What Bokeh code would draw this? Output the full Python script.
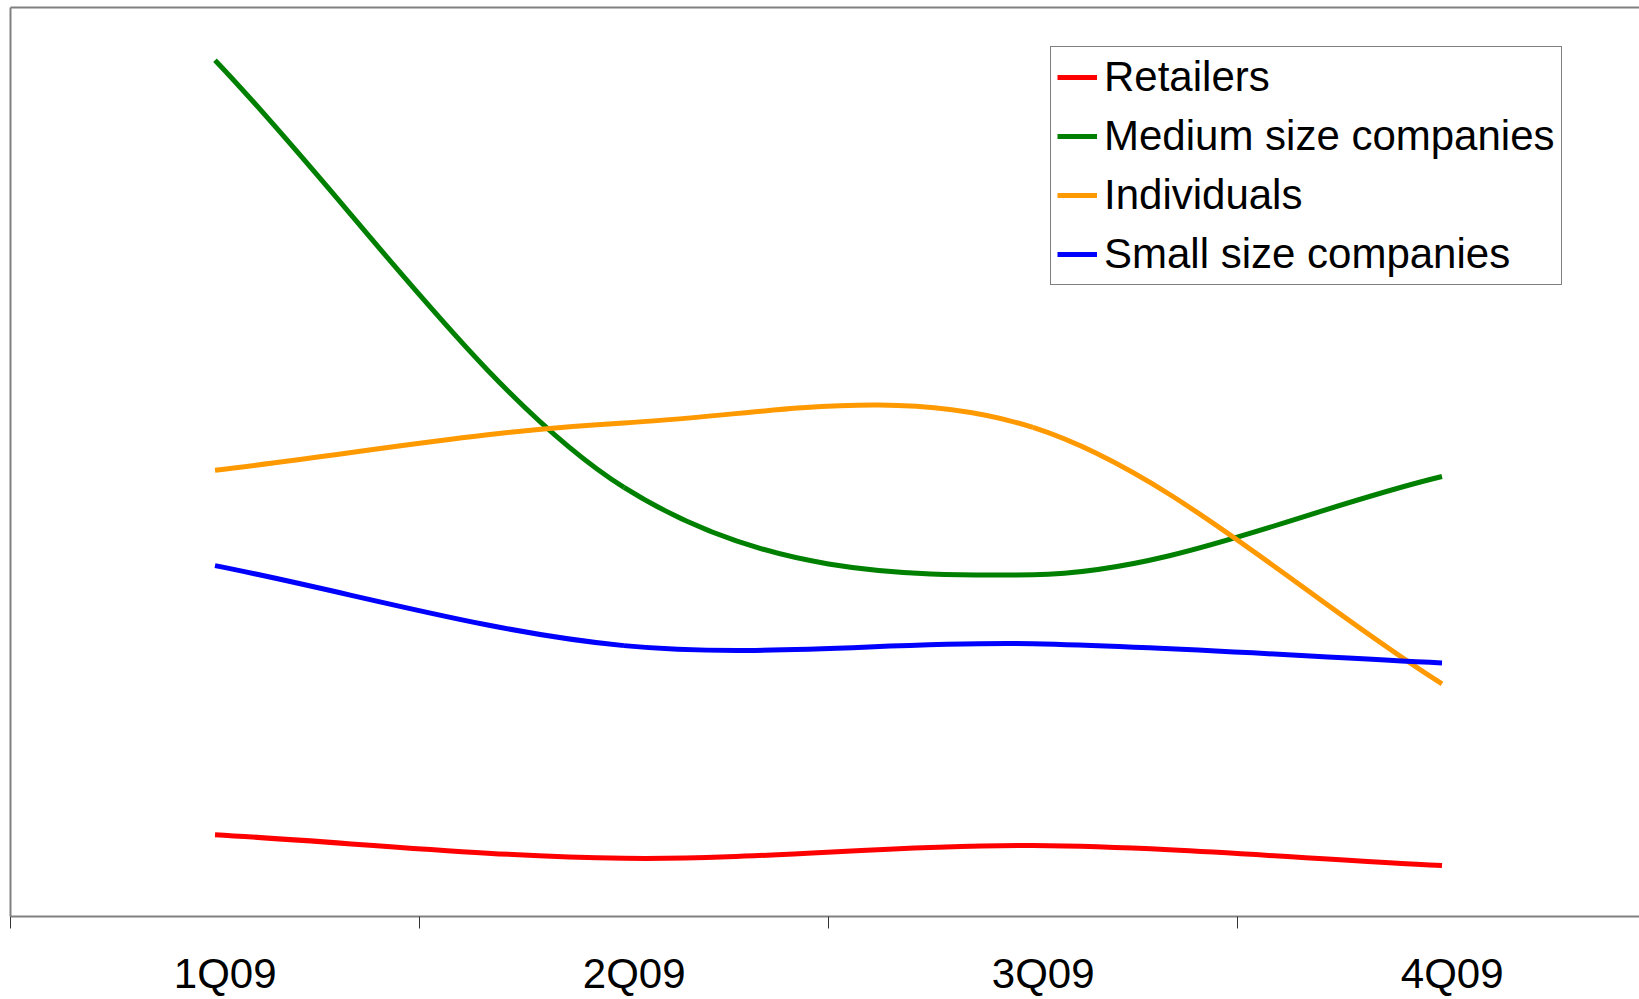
from bokeh.plotting import figure
from bokeh.models import (ColumnDataSource, Range1d, LinearAxis, FixedTicker,
                          Legend, LegendItem)
from bokeh.embed import file_html
from bokeh.resources import INLINE

# ---- data (y scale is arbitrary, no y labels) ----
quarters = ["1Q09", "2Q09", "3Q09", "4Q09"]
retailers = [9.0, 6.4, 7.8, 5.6]
medium = [94.2, 47.2, 37.6, 48.4]
individuals = [49.1, 54.3, 53.8, 25.6]
small = [38.6, 29.8, 30.0, 27.9]

series_names = ["Retailers", "Medium size companies", "Individuals", "Small size companies"]
series_values = [retailers, medium, individuals, small]
series_colors = ["#FF0000", "#008000", "#FF9900", "#0000FF"]

xs = [i + 0.5 for i in range(len(quarters))]


def tangents(v):
    n = len(v)
    t = []
    for i in range(n):
        if i == 0:
            t.append(v[1] - v[0])
        elif i == n - 1:
            t.append(v[n - 1] - v[n - 2])
        else:
            t.append((v[i + 1] - v[i - 1]) / 2.0)
    return t


def smooth_segments(x, y):
    tx, ty = tangents(x), tangents(y)
    d = dict(x0=[], y0=[], x1=[], y1=[], cx0=[], cy0=[], cx1=[], cy1=[])
    for i in range(len(x) - 1):
        d["x0"].append(x[i]); d["y0"].append(y[i])
        d["x1"].append(x[i + 1]); d["y1"].append(y[i + 1])
        d["cx0"].append(x[i] + tx[i] / 3.0); d["cy0"].append(y[i] + ty[i] / 3.0)
        d["cx1"].append(x[i + 1] - tx[i + 1] / 3.0); d["cy1"].append(y[i + 1] - ty[i + 1] / 3.0)
    return d


p = figure(width=1639, height=999, output_backend="svg", toolbar_location=None,
           x_range=Range1d(0, 1629 / 409.0), y_range=Range1d(0, 100),
           x_axis_location=None, y_axis_location=None,
           min_border_left=10, min_border_right=0, min_border_top=7,
           min_border_bottom=82)
p.outline_line_color = None
p.xgrid.visible = False
p.ygrid.visible = False
p.background_fill_color = "white"
p.border_fill_color = "white"

FONT = "Liberation Sans"

# left border
left_ax = LinearAxis(ticker=FixedTicker(ticks=[]), axis_line_color="#808080",
                     axis_line_width=2, major_tick_line_color=None,
                     minor_tick_line_color=None, major_label_text_font_size="0px")
p.add_layout(left_ax, "left")
# top border
top_ax = LinearAxis(ticker=FixedTicker(ticks=[]), axis_line_color="#808080",
                    axis_line_width=2, major_tick_line_color=None,
                    minor_tick_line_color=None, major_label_text_font_size="0px")
p.add_layout(top_ax, "above")

# category axis: labels at centres, tick marks at category boundaries
label_pos = [x + 0.025 for x in xs]
bottom_ax = LinearAxis(
    ticker=FixedTicker(ticks=label_pos, minor_ticks=list(range(len(quarters)))),
    major_label_overrides={lp: q for lp, q in zip(label_pos, quarters)},
    axis_line_color="#808080", axis_line_width=2,
    major_tick_line_color=None, major_tick_out=0, major_tick_in=0,
    minor_tick_line_color="#333333", minor_tick_line_width=1,
    minor_tick_out=12, minor_tick_in=0,
    major_label_standoff=21,
    major_label_text_font=FONT, major_label_text_font_size="42px",
    major_label_text_color="black")
p.add_layout(bottom_ax, "below")

items = []
for name, vals, col in zip(series_names, series_values, series_colors):
    src = ColumnDataSource(smooth_segments(xs, vals))
    r = p.bezier(x0="x0", y0="y0", x1="x1", y1="y1", cx0="cx0", cy0="cy0",
                 cx1="cx1", cy1="cy1", source=src, line_color=col, line_width=5)
    items.append(LegendItem(label=name, renderers=[r]))

legend = Legend(items=items, location=(1040, 631),
                label_text_font=FONT, label_text_font_size="42px",
                label_text_color="black",
                glyph_width=40, glyph_height=20, label_standoff=7,
                padding=6, spacing=11, margin=0,
                border_line_color="black", border_line_width=1,
                background_fill_color="white", background_fill_alpha=1.0)
p.add_layout(legend, "center")

open("out.html", "w").write(file_html(p, INLINE))
